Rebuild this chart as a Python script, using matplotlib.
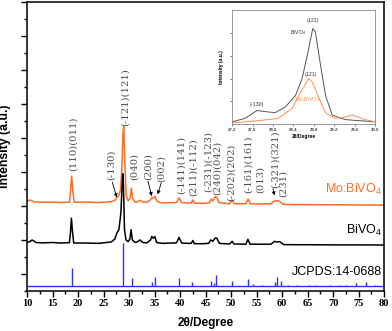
import matplotlib
matplotlib.use("Agg")
import matplotlib.pyplot as plt
from matplotlib.ticker import MultipleLocator, FixedLocator

plt.rcParams["font.family"] = ["Liberation Sans", "DejaVu Sans"]
plt.rcParams["mathtext.fontset"] = "custom"
plt.rcParams["mathtext.rm"] = "Liberation Sans"
plt.rcParams["mathtext.default"] = "regular"

ORANGE = "#ff6b22"
BLUE = "#3030ff"
LABEL_GRAY = "#505050"

# Mo:BiVO4 pattern (offset trace)
mo_x = [10.0, 10.6, 11.4, 13, 15.0, 16.5, 18.3, 18.5, 18.75, 19.0, 19.25, 21.5, 24, 26.5,
        27.3, 27.6, 27.9, 28.3, 28.55, 28.8, 28.95, 29.15, 29.45, 29.8, 30.2, 30.45, 30.7,
        31.2, 31.7, 32.2, 32.7, 33.5, 34.2, 34.45, 34.7, 35.1, 35.5, 36.5, 39.3, 39.8,
        40.3, 41.5, 42.2, 42.5, 42.8, 44.5, 45.7, 46.1, 46.4, 46.9, 47.2, 47.6, 49.7,
        50.2, 50.6, 52.9, 53.35, 53.8, 55.5, 57.8, 58.4, 58.9, 59.4, 60.2, 62, 65, 70, 75, 80]
mo_y = [5.28, 5.35, 5.24, 5.22, 5.23, 5.2, 5.22, 5.8, 6.75, 5.8, 5.22, 5.23, 5.2, 5.25,
        5.35, 5.5, 5.55, 5.9, 7.0, 9.3, 9.66, 7.6, 5.6, 5.3, 5.45, 6.05, 5.45,
        5.22, 5.25, 5.33, 5.22, 5.22, 5.35, 5.5, 5.45, 5.57, 5.25, 5.18, 5.2, 5.48,
        5.2, 5.17, 5.18, 5.35, 5.17, 5.15, 5.18, 5.4, 5.3, 5.55, 5.5, 5.2, 5.13,
        5.35, 5.13, 5.13, 5.4, 5.12, 5.12, 5.13, 5.28, 5.3, 5.28, 5.1, 5.08, 5.08, 5.07, 5.06, 5.05]

# pure BiVO4 pattern
bv_x = [10.0, 10.4, 11.0, 11.8, 13, 15, 16.5, 18.3, 18.5, 18.7, 18.9, 19.15, 21.5, 24, 26.5,
        27.2, 27.6, 28.0, 28.4, 28.6, 28.75, 28.9, 29.1, 29.4, 29.8, 30.15, 30.4, 30.65,
        31.2, 31.7, 32.1, 32.7, 33.5, 34.2, 34.45, 34.75, 35.05, 35.4, 36.5, 39.3, 39.8,
        40.3, 41.5, 42.2, 42.5, 42.8, 44.5, 45.6, 46.0, 46.4, 46.9, 47.2, 47.7, 49.7,
        50.2, 50.6, 52.9, 53.3, 53.7, 55.5, 57.8, 58.5, 58.9, 59.5, 60.3, 62, 65, 70, 75, 80]
bv_y = [2.85, 2.88, 3.0, 2.85, 2.83, 2.85, 2.82, 2.84, 3.4, 4.28, 3.5, 2.82, 2.82, 2.8, 2.88,
        3.05, 3.4, 3.6, 4.6, 6.0, 6.9, 6.2, 3.6, 3.0, 2.9, 3.05, 3.6, 3.0,
        2.85, 2.9, 3.0, 2.85, 2.83, 3.0, 3.2, 3.1, 3.2, 2.85, 2.8, 2.83, 3.15,
        2.82, 2.8, 2.8, 2.97, 2.78, 2.78, 2.8, 3.0, 2.92, 3.12, 3.1, 2.8, 2.76,
        2.92, 2.76, 2.75, 3.04, 2.75, 2.75, 2.75, 2.92, 2.88, 2.9, 2.73, 2.72, 2.72, 2.71, 2.71, 2.7]

# JCPDS 14-0688 reference lines
jc_base = 0.3
jc_pos = [18.8, 28.85, 30.5, 34.5, 35.0, 39.8, 42.4, 46.0, 46.7, 47.1, 50.2, 53.3, 54.2,
          56.0, 58.6, 59.0, 59.8, 61.1, 63.0, 65.2, 66.4, 69.4, 71.2, 72.5, 74.5, 76.4, 78.3]
jc_h = [1.07, 2.5, 0.46, 0.2, 0.54, 0.46, 0.25, 0.3, 0.15, 0.65, 0.3, 0.4, 0.08,
        0.05, 0.2, 0.55, 0.3, 0.05, 0.05, 0.05, 0.05, 0.05, 0.05, 0.05, 0.15, 0.25, 0.05]

# (label, x, bottom y)
hkl = [("(110)(011)", 19.1, 7.05), ("(-130)", 26.5, 6.5), ("(-121)(121)", 29.2, 9.7),
       ("(040)", 31.0, 6.5), ("(200)", 33.7, 6.5), ("(002)", 36.3, 6.4),
       ("(-141)(141)", 40.2, 5.7), ("(211)(-112)", 42.6, 5.6), ("(-231)(-123)", 45.5, 5.85),
       ("(240)(042)", 47.2, 5.65), ("(-202)(202)", 50.1, 5.3), ("(-161)(161)", 53.4, 5.76),
       ("(013)", 55.7, 5.76), ("(-321)(321)", 58.6, 6.06), ("(231)", 60.3, 5.55)]
# arrows: (start x, start y, end x, end y)
arrows = [(26.7, 6.4, 27.6, 5.5), (33.7, 6.45, 34.45, 5.58),
          (36.3, 6.35, 35.6, 5.68), (58.2, 6.02, 58.5, 5.62)]

# inset: zoom of the (121) reflection
in_x = [27.2, 27.45, 27.69, 27.85, 28.04, 28.24, 28.44, 28.57, 28.67, 28.78, 28.83,
        28.93, 29.03, 29.16, 29.41, 29.7, 30.0]
in_bv = [0.02, 0.05, 0.12, 0.11, 0.10, 0.15, 0.25, 0.40, 0.60, 0.84, 0.81,
         0.52, 0.25, 0.08, 0.04, 0.03, 0.02]
in_mo_x = [27.2, 27.71, 28.1, 28.38, 28.53, 28.7, 28.77, 28.9, 29.03, 29.22, 29.4,
           29.55, 29.8, 30.0]
in_mo = [0.01, 0.03, 0.05, 0.14, 0.27, 0.40, 0.37, 0.23, 0.10, 0.05, 0.06,
         0.08, 0.04, 0.02]

fig = plt.figure(figsize=(3.92, 3.31), dpi=100)
ax = fig.add_axes([0.069, 0.121, 0.911, 0.873])

ax.plot(mo_x, mo_y, color=ORANGE, lw=1.1)
ax.plot(bv_x, bv_y, color="black", lw=1.1)
ax.hlines(jc_base, 10, 80, color=BLUE, lw=1.0)
ax.vlines(jc_pos, jc_base, [jc_base + h for h in jc_h], color=BLUE, lw=1.0)

for txt, x, y in hkl:
    ax.text(x, y, txt, rotation=90, ha="center", va="bottom", fontsize=7.2,
            family="DejaVu Serif", color=LABEL_GRAY)
for x0, y0, x1, y1 in arrows:
    ax.annotate("", xy=(x1, y1), xytext=(x0, y0),
                arrowprops=dict(arrowstyle="-|>", color="black", lw=0.6,
                                mutation_scale=5, shrinkA=0, shrinkB=0))

ax.text(79.5, 6.0, r"Mo:BiVO$_4$", ha="right", va="center", fontsize=9, color=ORANGE)
ax.text(79.5, 3.55, r"BiVO$_4$", ha="right", va="center", fontsize=9, color="black")
ax.text(79.5, 1.12, "JCPDS:14-0688", ha="right", va="center", fontsize=9, color="black")

ax.set_xlim(10, 80)
ax.set_ylim(0, 17)
ax.xaxis.set_major_locator(MultipleLocator(5))
ax.xaxis.set_minor_locator(MultipleLocator(2.5))
ax.yaxis.set_major_locator(FixedLocator(list(range(1, 18, 2))))
ax.yaxis.set_minor_locator(FixedLocator(list(range(0, 18, 2))))
ax.set_yticklabels([])
ax.tick_params(which="major", direction="out", length=4, width=1)
ax.tick_params(which="minor", direction="out", length=2.5, width=1)
ax.tick_params(axis="x", pad=2)
for lab in ax.get_xticklabels():
    lab.set_family("Liberation Serif")
    lab.set_fontweight("bold")
    lab.set_fontsize(7.5)
for s in ax.spines.values():
    s.set_linewidth(1.1)
ax.set_xlabel("2θ/Degree", fontsize=8.5, fontweight="bold", labelpad=6)
ax.set_ylabel("Intensity (a.u.)", fontsize=8.8, fontweight="bold", labelpad=4)

# inset
ins = fig.add_axes([0.592, 0.625, 0.365, 0.344])
ins.plot(in_x, in_bv, color="#555555", lw=0.7)
ins.plot(in_mo_x, in_mo, color="#ff9050", lw=0.7)
ins.set_xlim(27.2, 30.0)
ins.set_ylim(0, 1)
ins.set_xticks([27.2, 27.6, 28.0, 28.4, 28.8, 29.2, 29.6, 30.0])
ins.set_xticklabels(["27.2", "27.6", "28.0", "28.4", "28.8", "29.2", "29.6", "30.0"])
ins.set_yticks([0.2, 0.4, 0.6, 0.8])
ins.set_yticklabels([])
ins.tick_params(length=1.5, width=0.5, pad=1, labelsize=3.2, colors="#444444")
for lab in ins.get_xticklabels():
    lab.set_fontweight("bold")
for s in ins.spines.values():
    s.set_color("#888888")
    s.set_linewidth(0.6)
ins.set_xlabel("2θ/Degree", fontsize=3.6, fontweight="bold", labelpad=1.5)
ins.set_ylabel("Intensity (a.u.)", fontsize=3.6, fontweight="bold", labelpad=3)
ins.text(28.78, 0.91, "(121)", fontsize=3.8, ha="center", va="center", color="#333333")
ins.text(28.5, 0.8, r"BiVO$_4$", fontsize=3.8, ha="center", va="center", color="#333333")
ins.text(28.75, 0.44, "(121)", fontsize=3.8, ha="center", va="center", color="#333333")
ins.text(28.67, 0.22, r"Mo:BiVO$_4$", fontsize=3.8, ha="center", va="center", color="#ff9050")
ins.text(27.68, 0.17, "(-130)", fontsize=3.8, ha="center", va="center", color="#333333")

fig.savefig("out.png", dpi=100)
